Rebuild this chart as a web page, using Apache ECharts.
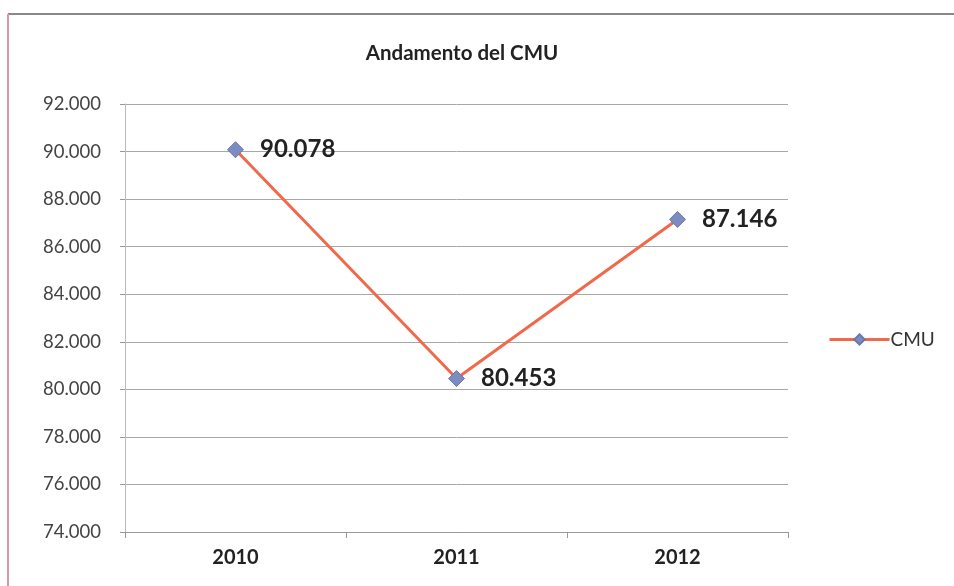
<!DOCTYPE html>
<html><head><meta charset="utf-8">
<script src="https://cdn.jsdelivr.net/npm/echarts@6/dist/echarts.min.js"></script>
<style>html,body{margin:0;padding:0;background:#fff}#c{width:954px;height:586px}</style>
</head><body><div id="c"></div>
<script>
const categories = ["2010", "2011", "2012"];
const cmuValues = [90078, 80453, 87146];
const seriesName = "CMU";
const chartTitle = "Andamento del CMU";

const fmt = v => String(Math.round(v)).replace(/\B(?=(\d{3})+(?!\d))/g, ".");
const F = "Lato, 'Open Sans', sans-serif";
const chart = echarts.init(document.getElementById('c'), null, {renderer: 'canvas'});
chart.setOption({
  backgroundColor: '#fff',
  animation: false,
  title: {text: chartTitle, left: 457, top: 38, textAlign: 'center',
    textStyle: {fontFamily: F, fontWeight: 'bold', fontSize: 20.5, color: '#222'}},
  legend: {data: [seriesName], left: 823, top: 325,
    itemWidth: 60, itemHeight: 13, itemGap: 4,
    lineStyle: {width: 3},
    textStyle: {fontFamily: F, fontSize: 19, color: '#333', padding: [0, 0, 0, -4]}},
  grid: {left: 125, right: 166, top: 104, bottom: 54},
  xAxis: {type: 'category', data: categories, boundaryGap: true,
    axisLine: {lineStyle: {color: '#999', width: 1}},
    axisTick: {show: true, length: 6, lineStyle: {color: '#999'}},
    axisLabel: {margin: 16, fontFamily: F, fontWeight: 'bold', fontSize: 20, color: '#222'}},
  yAxis: {type: 'value', min: 74000, max: 92000, interval: 2000,
    axisLine: {show: true, lineStyle: {color: '#bbb'}},
    axisTick: {show: true, length: 5, lineStyle: {color: '#999'}},
    splitLine: {lineStyle: {color: '#a8a8a8', width: 1}},
    axisLabel: {formatter: fmt, margin: 24, fontFamily: F, fontSize: 18.5, color: '#444'}},
  series: [{name: seriesName, type: 'line', data: cmuValues,
    symbol: 'diamond', symbolSize: 16,
    lineStyle: {color: '#f0694a', width: 3},
    itemStyle: {color: '#7d8cc0', borderColor: '#6a78aa', borderWidth: 1},
    label: {show: true, position: 'right', distance: 16, formatter: p => fmt(p.value),
      fontFamily: F, fontWeight: 'bold', fontSize: 24, color: '#222'}}],
  graphic: [
    {type: 'line', shape: {x1: 8, y1: 14, x2: 954, y2: 14}, style: {stroke: '#888', lineWidth: 2}, silent: true},
    {type: 'line', shape: {x1: 8, y1: 14, x2: 8, y2: 586}, style: {stroke: '#d79aa8', lineWidth: 2}, silent: true}
  ]
});
</script></body></html>
